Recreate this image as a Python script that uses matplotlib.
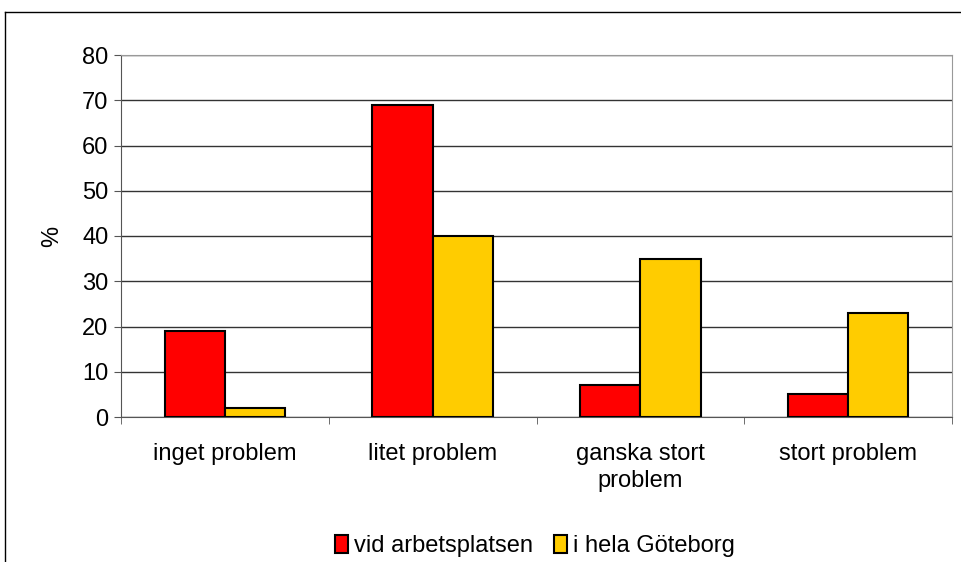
import matplotlib
matplotlib.use("Agg")
import matplotlib.pyplot as plt
from matplotlib.lines import Line2D
from matplotlib.patches import Patch
import numpy as np

plt.rcParams['font.family'] = ['Liberation Sans', 'DejaVu Sans']

categories = ["inget problem", "litet problem", "ganska stort\nproblem", "stort problem"]
arbetsplatsen = [19, 69, 7, 5]
goteborg = [2, 40, 35, 23]
series_names = ["vid arbetsplatsen", "i hela Göteborg"]
colors = ["#ff0000", "#ffcc00"]

fs = 17

fig = plt.figure(figsize=(9.61, 5.62), dpi=100)
ax = fig.add_axes([121/961, 1-417/562, (952-121)/961, (417-55)/562])

x = np.arange(len(categories))
w = 0.29
ax.bar(x - w/2, arbetsplatsen, w, color=colors[0], edgecolor="black", linewidth=1.5, zorder=3)
ax.bar(x + w/2, goteborg, w, color=colors[1], edgecolor="black", linewidth=1.5, zorder=3)

ax.set_xlim(-0.5, len(categories) - 0.5)
ax.set_ylim(0, 80)
ax.set_yticks(range(0, 81, 10))
ax.yaxis.grid(True, color="#333333", linewidth=1, zorder=0)
ax.set_xticks(x)
ax.set_xticklabels(categories, fontsize=fs, linespacing=1.3)
ax.set_xticks(np.arange(-0.5, len(categories)), minor=True)
ax.tick_params(axis="x", which="major", length=0, pad=19)
ax.tick_params(axis="x", which="minor", length=5, color="#555555")
ax.tick_params(axis="y", length=5, labelsize=fs, color="#555555", pad=4)
ax.set_ylabel("%", fontsize=fs, labelpad=14)

for s in ["left", "bottom"]:
    ax.spines[s].set_color("#555555")
for s in ["top", "right"]:
    ax.spines[s].set_color("#999999")

handles = [Patch(facecolor=c, edgecolor="black", linewidth=1.5) for c in colors]
fig.legend(handles, series_names, loc="center", bbox_to_anchor=(0.557, 1-546/562),
           ncol=2, frameon=False, fontsize=fs, handlelength=0.55, handleheight=0.8,
           handletextpad=0.25, columnspacing=0.9)

fig.add_artist(Line2D([5/961, 1], [1-12/562, 1-12/562], color="black", linewidth=1))
fig.add_artist(Line2D([5/961, 5/961], [0, 1-12/562], color="black", linewidth=1))

fig.savefig("out.png", dpi=100)
